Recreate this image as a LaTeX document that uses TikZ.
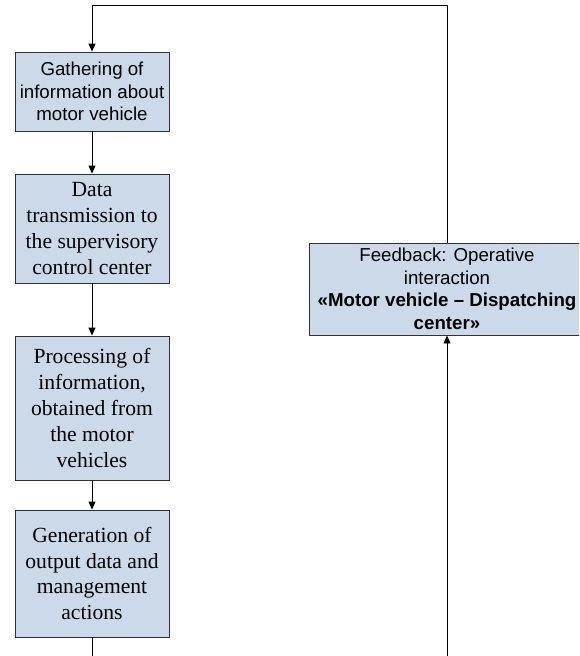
\documentclass[tikz,border=0pt]{standalone}
\usepackage{fontspec}
\setmainfont{Liberation Serif}
\newfontfamily\arialfont{Liberation Sans}
\usetikzlibrary{arrows.meta}
\definecolor{boxfill}{RGB}{203,217,233}
\definecolor{boxline}{RGB}{50,50,50}
\tikzset{
  flowbox/.style={draw=boxline, line width=0.9pt, fill=boxfill, inner sep=0pt, align=center, anchor=center},
  sansbox/.style={flowbox, font=\arialfont\fontsize{18.7}{22.5}\selectfont},
  serifbox/.style={flowbox, font=\fontsize{21.6}{25.9}\selectfont},
  conn/.style={draw=black, line width=0.9pt, -{Triangle[length=8pt,width=7pt]}},
  plain/.style={draw=black, line width=0.9pt}
}
\begin{document}
\begin{tikzpicture}[x=1pt,y=-1pt]
\useasboundingbox (0,0) rectangle (579,656);
\clip (0,0) rectangle (579,656);
\node[sansbox, minimum width=154pt, minimum height=79pt] (b1) at (92,91.5) {Gathering of\\information about\\motor vehicle};
\node[serifbox, minimum width=154pt, minimum height=109pt] (b2) at (92,228.5) {Data\\transmission to\\the supervisory\\control center};
\node[serifbox, minimum width=154pt, minimum height=144pt] (b3) at (92,408) {Processing of\\information,\\obtained from\\the motor\\vehicles};
\node[serifbox, minimum width=154pt, minimum height=127pt] (b4) at (92,573.5) {Generation of\\output data and\\management\\actions};
\node[sansbox, minimum width=276pt, minimum height=92pt] (fb) at (447,289) {Feedback: Operative\\interaction\\\textbf{«Motor vehicle – Dispatching}\\\textbf{center»}};
\coordinate (topr) at (447,5);
\coordinate (topl) at (92,5);
\coordinate (botl) at (92,660);
\coordinate (botr) at (447,660);
\draw[conn] (b1) -- (b2);
\draw[conn] (b2) -- (b3);
\draw[conn] (b3) -- (b4);
\draw[plain] (b4.south) -- (botl);
\draw[conn] (botr) -- (fb.south);
\draw[conn] (fb.north) -- (topr) -- (topl) -- (b1.north);
\end{tikzpicture}
\end{document}
